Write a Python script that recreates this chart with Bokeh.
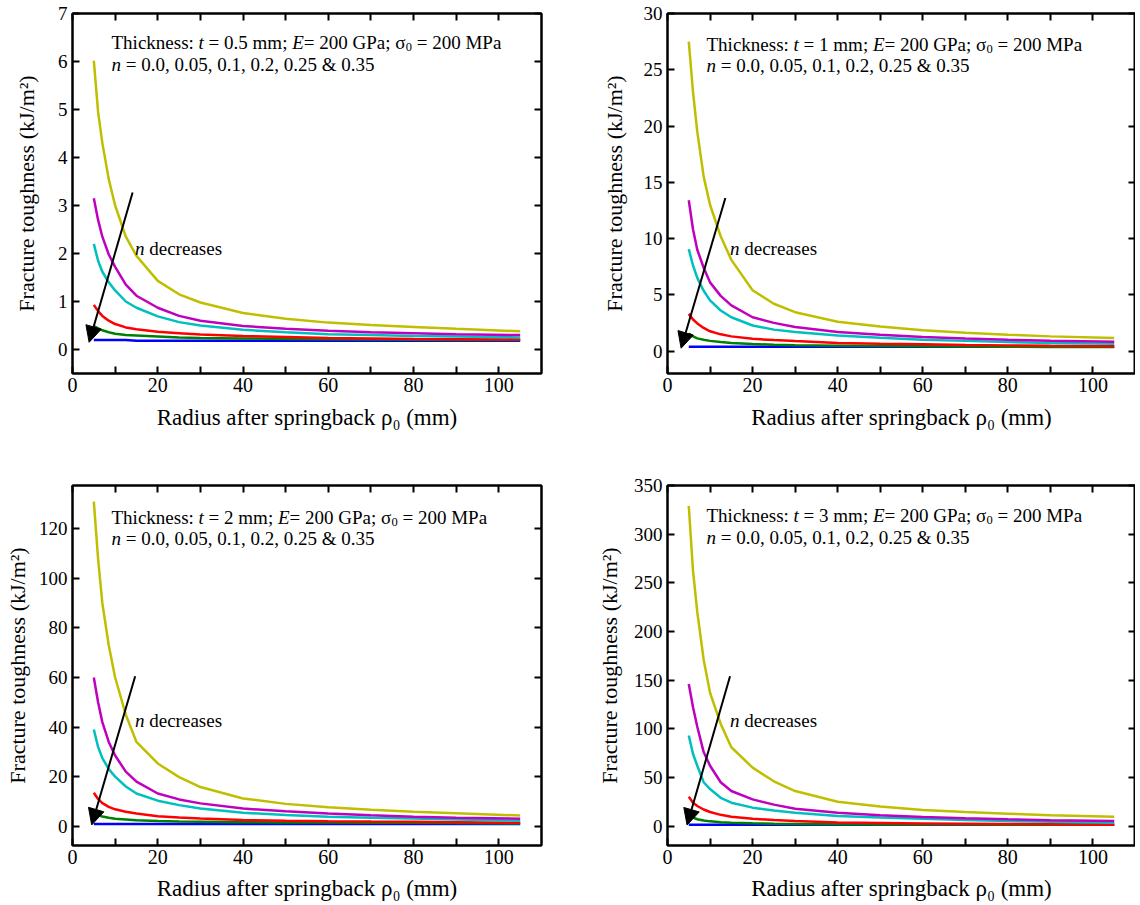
from bokeh.plotting import figure
from bokeh.layouts import column, row
from bokeh.models import (FixedTicker, LinearAxis, Range1d, Label, Arrow,
                          NormalHead, CustomJSTickFormatter)
from bokeh.embed import file_html
from bokeh.resources import INLINE

# ---------------- data ----------------
radius_mm = [5, 6, 7, 8.5, 10, 12.5, 15, 20, 25, 30, 40, 50, 60, 70, 80, 90, 105]
n_values = ["0.0", "0.05", "0.1", "0.2", "0.25", "0.35"]
line_colors = ["#0000ff", "#008000", "#ff0000", "#00bfbf", "#bf00bf", "#bfbf00"]
thicknesses = ["0.5", "1", "2", "3"]

# t = 0.5 mm
t05_n000 = [0.20, 0.20, 0.20, 0.20, 0.20, 0.20, 0.18, 0.18, 0.18, 0.18, 0.18, 0.18, 0.18, 0.18, 0.18, 0.18, 0.18]
t05_n005 = [0.49, 0.44, 0.40, 0.36, 0.33, 0.30, 0.29, 0.27, 0.25, 0.24, 0.23, 0.22, 0.215, 0.21, 0.205, 0.20, 0.20]
t05_n010 = [0.93, 0.80, 0.70, 0.60, 0.53, 0.46, 0.42, 0.37, 0.34, 0.31, 0.28, 0.26, 0.24, 0.23, 0.22, 0.215, 0.21]
t05_n020 = [2.20, 1.85, 1.62, 1.40, 1.23, 1.00, 0.87, 0.69, 0.57, 0.50, 0.41, 0.36, 0.32, 0.30, 0.28, 0.27, 0.25]
t05_n025 = [3.15, 2.70, 2.35, 1.98, 1.72, 1.35, 1.12, 0.87, 0.70, 0.60, 0.49, 0.43, 0.39, 0.36, 0.34, 0.32, 0.30]
t05_n035 = [6.02, 4.95, 4.30, 3.55, 3.00, 2.35, 1.95, 1.43, 1.15, 0.98, 0.76, 0.64, 0.56, 0.51, 0.47, 0.43, 0.38]

# t = 1 mm
t1_n000 = [0.38, 0.38, 0.38, 0.38, 0.38, 0.38, 0.38, 0.38, 0.38, 0.38, 0.38, 0.38, 0.38, 0.38, 0.38, 0.38, 0.38]
t1_n005 = [1.55, 1.30, 1.12, 1.00, 0.90, 0.80, 0.72, 0.62, 0.56, 0.51, 0.47, 0.44, 0.42, 0.40, 0.38, 0.36, 0.35]
t1_n010 = [3.30, 2.80, 2.45, 2.05, 1.75, 1.48, 1.30, 1.08, 0.97, 0.88, 0.72, 0.65, 0.59, 0.54, 0.50, 0.46, 0.42]
t1_n020 = [9.05, 7.60, 6.50, 5.35, 4.50, 3.60, 3.00, 2.27, 1.90, 1.68, 1.38, 1.18, 1.00, 0.90, 0.80, 0.72, 0.65]
t1_n025 = [13.4, 10.8, 9.0, 7.4, 6.1, 4.9, 4.05, 3.0, 2.5, 2.13, 1.68, 1.45, 1.25, 1.12, 1.00, 0.92, 0.82]
t1_n035 = [27.5, 23.0, 19.5, 15.5, 13.0, 10.2, 8.1, 5.4, 4.2, 3.45, 2.6, 2.18, 1.85, 1.62, 1.45, 1.30, 1.15]

# t = 2 mm
t2_n000 = [0.85, 0.85, 0.85, 0.85, 0.85, 0.85, 0.85, 0.85, 0.85, 0.85, 0.85, 0.85, 0.85, 0.85, 0.85, 0.85, 0.85]
t2_n005 = [5.2, 4.5, 3.9, 3.4, 3.0, 2.7, 2.4, 2.1, 1.9, 1.8, 1.6, 1.5, 1.45, 1.4, 1.35, 1.25, 1.1]
t2_n010 = [13.5, 11.0, 9.3, 7.8, 6.8, 5.8, 5.1, 4.0, 3.5, 3.1, 2.5, 2.2, 2.0, 1.85, 1.75, 1.6, 1.35]
t2_n020 = [39.0, 32.0, 27.5, 23.0, 20.0, 16.0, 13.2, 10.3, 8.5, 7.1, 5.4, 4.5, 3.8, 3.4, 3.1, 2.7, 2.2]
t2_n025 = [60.0, 50.0, 42.0, 34.0, 28.5, 22.0, 18.0, 13.2, 10.8, 9.2, 7.1, 6.0, 5.1, 4.4, 3.8, 3.4, 3.0]
t2_n035 = [131.0, 108.0, 90.0, 73.0, 60.0, 45.0, 34.0, 25.3, 19.8, 15.8, 11.2, 9.0, 7.6, 6.6, 5.8, 5.2, 4.3]

# t = 3 mm
t3_n000 = [1.2, 1.2, 1.2, 1.2, 1.2, 1.2, 1.2, 1.2, 1.2, 1.2, 1.2, 1.2, 1.2, 1.2, 1.2, 1.2, 1.2]
t3_n005 = [11.0, 8.8, 7.0, 5.8, 4.8, 4.0, 3.4, 2.8, 2.4, 2.2, 1.9, 1.7, 1.6, 1.5, 1.4, 1.35, 1.3]
t3_n010 = [30.0, 24.0, 20.6, 17.0, 14.4, 11.5, 9.6, 7.5, 6.2, 5.1, 3.6, 3.1, 2.7, 2.4, 2.1, 1.8, 1.4]
t3_n020 = [93.0, 74.0, 62.0, 45.0, 38.0, 29.0, 24.0, 18.9, 16.0, 13.7, 10.3, 8.7, 7.5, 6.2, 5.1, 4.3, 3.4]
t3_n025 = [146.0, 122.0, 102.0, 76.0, 62.0, 45.0, 36.0, 27.4, 22.0, 17.8, 13.7, 11.0, 9.3, 8.0, 6.9, 6.0, 5.1]
t3_n035 = [329.0, 262.0, 220.0, 171.0, 137.0, 105.0, 81.0, 60.0, 46.0, 36.0, 25.0, 20.0, 16.5, 14.4, 12.7, 11.0, 9.6]

y_ticks_t05 = [0, 1, 2, 3, 4, 5, 6, 7]
y_ticks_t1 = [0, 5, 10, 15, 20, 25, 30]
y_ticks_t2 = [0, 20, 40, 60, 80, 100, 120]
y_ticks_t3 = [0, 50, 100, 150, 200, 250, 300, 350]
x_ticks = [0, 10, 20, 30, 40, 50, 60, 70, 80, 90, 100]
x_tick_labels = ["0", "", "20", "", "40", "", "60", "", "80", "", "100"]

# ---------------- style ----------------
FONT = "Liberation Serif"
TXT = 19  # annotation font px

REG = {' ': 250, 'T': 611, 'h': 500, 'i': 278, 'c': 444, 'k': 500, 'n': 500, 'e': 444,
       's': 389, ':': 278, '=': 564, '.': 250, 'm': 778, ';': 278, 'G': 722, 'P': 556,
       'a': 444, 'M': 889, ',': 250, '&': 778, 'd': 500, 'r': 333, 'σ': 550}
for dch in "0123456789":
    REG[dch] = 500
ITA = {'t': 278, 'E': 611, 'n': 500}


def seg_width(s, table, size):
    return sum(table.get(ch, 500) for ch in s) * size / 1000.0


def rich_line(p, fw, fh, x_px, y_px, segments, size):
    xr, yr = p.x_range, p.y_range
    sx = (xr.end - xr.start) / fw
    sy = (yr.end - yr.start) / fh
    cur = x_px
    for txt, kind in segments:
        fs = size * 0.66 if kind == "sub" else size
        table = ITA if kind == "it" else REG
        lead = len(txt) - len(txt.lstrip(" "))
        body = txt.strip(" ")
        dy = 5 if kind == "sub" else 0
        xpos = cur + lead * 250 * fs / 1000.0
        p.add_layout(Label(x=xr.start + xpos * sx, y=yr.end - (y_px + dy) * sy,
                           text=body, text_font=FONT, text_font_size=f"{fs:.1f}px",
                           text_font_style="italic" if kind == "it" else "normal",
                           text_align="left", text_baseline="alphabetic",
                           text_color="black"))
        cur += seg_width(txt, table, fs)


def style_axis(ax, size="19px", label_size="22px"):
    ax.axis_line_width = 2
    ax.axis_line_color = "black"
    ax.major_tick_in = 7
    ax.major_tick_out = 0
    ax.major_tick_line_width = 2
    ax.major_tick_line_color = "black"
    ax.minor_tick_line_color = None
    ax.major_label_text_font = FONT
    ax.major_label_text_font_size = size
    ax.major_label_text_color = "black"
    ax.axis_label_text_font = FONT
    ax.axis_label_text_font_size = label_size
    ax.axis_label_text_font_style = "normal"
    ax.axis_label_text_color = "black"


def make_panel(thick, series, yr, yticks, arrow, fw, borders, ylab_standoff,
               xlab_standoff, text_px):
    bl, br, bt, bb = borders
    fh = 360
    p = figure(frame_width=fw, frame_height=fh, x_range=Range1d(0, 110),
               y_range=Range1d(*yr), output_backend="svg", toolbar_location=None,
               min_border_left=bl, min_border_right=br, min_border_top=bt,
               min_border_bottom=bb, background_fill_color="white",
               border_fill_color="white")
    p.xgrid.visible = False
    p.ygrid.visible = False
    p.outline_line_color = "black"
    p.outline_line_width = 2
    p.outline_line_alpha = 1.0

    for vals, col in zip(series, line_colors):
        p.line(radius_mm, vals, line_color=col, line_width=2.5)

    xa = p.xaxis[0]
    xa.ticker = FixedTicker(ticks=x_ticks)
    xa.major_label_overrides = {t: lab for t, lab in zip(x_ticks, x_tick_labels)}
    xa.axis_label = "Radius after springback ρ₀ (mm)"
    style_axis(xa, "20px", "23px")
    xa.major_label_standoff = 4
    xa.axis_label_standoff = xlab_standoff

    ya = p.yaxis[0]
    ya.ticker = FixedTicker(ticks=yticks)
    ya.axis_label = "Fracture toughness (kJ/m²)"
    style_axis(ya)
    ya.major_label_standoff = 5
    ya.axis_label_standoff = ylab_standoff

    blank = "return ''"
    ra = LinearAxis(ticker=FixedTicker(ticks=yticks),
                    formatter=CustomJSTickFormatter(code=blank))
    style_axis(ra)
    ra.major_label_standoff = 0
    p.add_layout(ra, "right")
    ta = LinearAxis(ticker=FixedTicker(ticks=x_ticks),
                    formatter=CustomJSTickFormatter(code=blank))
    style_axis(ta)
    ta.major_label_standoff = 0
    p.add_layout(ta, "above")

    # annotation text
    l1y, l2y = text_px
    rich_line(p, fw, fh, 39, l1y,
              [("Thickness: ", "n"), ("t", "it"), (f" = {thick} mm; ", "n"), ("E", "it"),
               ("= 200 GPa; σ", "n"), ("0", "sub"), (" = 200 MPa", "n")], TXT)
    rich_line(p, fw, fh, 39, l2y,
              [("n", "it"), (" = " + ", ".join(n_values[:-1]) + " & " + n_values[-1], "n")], TXT)
    rich_line(p, fw, fh, 62.5, 234.5, [("n", "it"), (" decreases", "n")], TXT)

    (xs, ys), (xe, ye) = arrow
    p.add_layout(Arrow(x_start=xs, y_start=ys, x_end=xe, y_end=ye, line_width=2,
                       line_color="black",
                       end=NormalHead(size=16, fill_color="black", line_color="black",
                                      line_width=1)))
    return p


p_tl = make_panel(thicknesses[0],
                  [t05_n000, t05_n005, t05_n010, t05_n020, t05_n025, t05_n035],
                  (-0.5, 7), y_ticks_t05, ((14.1, 3.27), (3.9, 0.15)), 469,
                  (72, 20, 13, 100), 16, 10, (28.5, 50.5))
p_tr = make_panel(thicknesses[1],
                  [t1_n000, t1_n005, t1_n010, t1_n020, t1_n025, t1_n035],
                  (-2, 30), y_ticks_t1, ((13.6, 13.6), (3.2, 0.25)), 468,
                  (106, 0, 13, 100), 14, 10, (30.5, 51.5))
p_bl = make_panel(thicknesses[2],
                  [t2_n000, t2_n005, t2_n010, t2_n020, t2_n025, t2_n035],
                  (-7.8, 137.5), y_ticks_t2, ((14.7, 60.5), (4.5, 0.5)), 469,
                  (72, 20, 12, 0), 6, 9, (31.5, 53))
p_br = make_panel(thicknesses[3],
                  [t3_n000, t3_n005, t3_n010, t3_n020, t3_n025, t3_n035],
                  (-20, 350), y_ticks_t3, ((14.7, 154), (4.6, 1.0)), 468,
                  (106, 0, 12, 0), 9, 9, (29.5, 51.7))

layout = column(row(p_tl, p_tr), row(p_bl, p_br))

open("out.html", "w").write(file_html(layout, INLINE))
